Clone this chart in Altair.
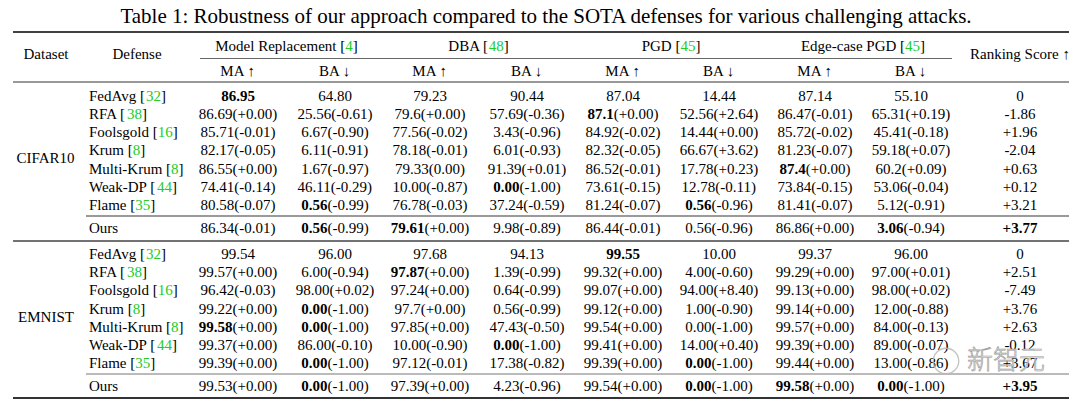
import altair as alt
import pandas as pd

# ---------------- data ----------------
title = "Table 1: Robustness of our approach compared to the SOTA defenses for various challenging attacks."
attacks = ["Model Replacement", "DBA", "PGD", "Edge-case PGD"]
attack_refs = ["4", "48", "45", "45"]
metrics = ["MA \u2191", "BA \u2193"]
datasets = ["CIFAR10", "EMNIST"]
defenses = ["FedAvg", "RFA", "Foolsgold", "Krum", "Multi-Krum", "Weak-DP", "Flame", "Ours"]
defense_refs = ["32", "38", "16", "8", "8", "44", "35", ""]
rank_header = "Ranking Score \u2191"

# '**' marks the bold part of a cell
cifar = [
    ["**86.95**", "64.80", "79.23", "90.44", "87.04", "14.44", "87.14", "55.10", "0"],
    ["86.69(+0.00)", "25.56(-0.61)", "79.6(+0.00)", "57.69(-0.36)", "**87.1**(+0.00)", "52.56(+2.64)", "86.47(-0.01)", "65.31(+0.19)", "-1.86"],
    ["85.71(-0.01)", "6.67(-0.90)", "77.56(-0.02)", "3.43(-0.96)", "84.92(-0.02)", "14.44(+0.00)", "85.72(-0.02)", "45.41(-0.18)", "+1.96"],
    ["82.17(-0.05)", "6.11(-0.91)", "78.18(-0.01)", "6.01(-0.93)", "82.32(-0.05)", "66.67(+3.62)", "81.23(-0.07)", "59.18(+0.07)", "-2.04"],
    ["86.55(+0.00)", "1.67(-0.97)", "79.33(0.00)", "91.39(+0.01)", "86.52(-0.01)", "17.78(+0.23)", "**87.4**(+0.00)", "60.2(+0.09)", "+0.63"],
    ["74.41(-0.14)", "46.11(-0.29)", "10.00(-0.87)", "**0.00**(-1.00)", "73.61(-0.15)", "12.78(-0.11)", "73.84(-0.15)", "53.06(-0.04)", "+0.12"],
    ["80.58(-0.07)", "**0.56**(-0.99)", "76.78(-0.03)", "37.24(-0.59)", "81.24(-0.07)", "**0.56**(-0.96)", "81.41(-0.07)", "5.12(-0.91)", "+3.21"],
    ["86.34(-0.01)", "**0.56**(-0.99)", "**79.61**(+0.00)", "9.98(-0.89)", "86.44(-0.01)", "0.56(-0.96)", "86.86(+0.00)", "**3.06**(-0.94)", "**+3.77**"],
]
emnist = [
    ["99.54", "96.00", "97.68", "94.13", "**99.55**", "10.00", "99.37", "96.00", "0"],
    ["99.57(+0.00)", "6.00(-0.94)", "**97.87**(+0.00)", "1.39(-0.99)", "99.32(+0.00)", "4.00(-0.60)", "99.29(+0.00)", "97.00(+0.01)", "+2.51"],
    ["96.42(-0.03)", "98.00(+0.02)", "97.24(+0.00)", "0.64(-0.99)", "99.07(+0.00)", "94.00(+8.40)", "99.13(+0.00)", "98.00(+0.02)", "-7.49"],
    ["99.22(+0.00)", "**0.00**(-1.00)", "97.7(+0.00)", "0.56(-0.99)", "99.12(+0.00)", "1.00(-0.90)", "99.14(+0.00)", "12.00(-0.88)", "+3.76"],
    ["**99.58**(+0.00)", "**0.00**(-1.00)", "97.85(+0.00)", "47.43(-0.50)", "99.54(+0.00)", "0.00(-1.00)", "99.57(+0.00)", "84.00(-0.13)", "+2.63"],
    ["99.37(+0.00)", "86.00(-0.10)", "10.00(-0.90)", "**0.00**(-1.00)", "99.41(+0.00)", "14.00(+0.40)", "99.39(+0.00)", "89.00(-0.07)", "-0.12"],
    ["99.39(+0.00)", "**0.00**(-1.00)", "97.12(-0.01)", "17.38(-0.82)", "99.39(+0.00)", "**0.00**(-1.00)", "99.44(+0.00)", "13.00(-0.86)", "+3.67"],
    ["99.53(+0.00)", "**0.00**(-1.00)", "97.39(+0.00)", "4.23(-0.96)", "99.54(+0.00)", "**0.00**(-1.00)", "**99.58**(+0.00)", "**0.00**(-1.00)", "**+3.95**"],
]
watermark = "新智元"

# ---------------- layout ----------------
FONT = "Liberation Serif"
FS = 15
TITLE_FS = 21
GREEN = "#22cc22"
col_x = [238, 335, 430, 527, 623, 719, 815, 911, 1020]
defense_x = 89
dataset_x = 46
defense_header_x = 137
title_x = 546
title_base_y = 22.5
head1_y = 46
head_mid_y = 54
head2_y = 71
rows_y = [[96, 114, 132, 150, 169, 187, 205, 228], [254, 272, 290, 309, 327, 345, 363, 386]]
dataset_y = [158, 317]

# Times-like character widths (per 1000 em)
REG = {" ": 250, "[": 333, "]": 333, "(": 333, ")": 333, "+": 564, "-": 333, ".": 250, ":": 278,
       "A": 722, "B": 667, "C": 667, "D": 722, "E": 611, "F": 556, "G": 722, "H": 722, "I": 333,
       "K": 722, "M": 889, "N": 722, "O": 722, "P": 556, "R": 667, "S": 556, "T": 611, "W": 944,
       "a": 444, "b": 500, "c": 444, "d": 500, "e": 444, "f": 333, "g": 500, "h": 500, "i": 278,
       "k": 500, "l": 278, "m": 778, "n": 500, "o": 500, "p": 500, "r": 333, "s": 389, "t": 278,
       "u": 500, "v": 500, "w": 722, "y": 500}
BOLD = dict(REG)
BOLD.update({"+": 570})


def tw(s, bold=False, size=FS):
    tab = BOLD if bold else REG
    return sum(tab.get(c, 500) for c in s) * size / 1000.0


def parse(cell):
    parts = cell.split("**")
    return [(p, i % 2 == 1, "black") for i, p in enumerate(parts) if p]


pieces = []


def place(segs, x, y, anchor="center", size=FS):
    total = sum(tw(t, b, size) for t, b, _ in segs)
    start = x - total / 2 if anchor == "center" else x
    for t, b, c in segs:
        pieces.append({"x": start, "y": y, "text": t, "bold": b, "color": c, "size": size})
        start += tw(t, b, size)


place([("Dataset", False, "black")], dataset_x, head_mid_y)
place([("Defense", False, "black")], defense_header_x, head_mid_y)
place([(rank_header, False, "black")], col_x[8], head_mid_y)
for g, (a, r) in enumerate(zip(attacks, attack_refs)):
    cx = (col_x[2 * g] + col_x[2 * g + 1]) / 2
    place([(a + " [", False, "black"), (r, False, GREEN), ("]", False, "black")], cx, head1_y)
    for k, m in enumerate(metrics):
        place([(m, False, "black")], col_x[2 * g + k], head2_y)

for d, (name, table) in enumerate(zip(datasets, [cifar, emnist])):
    place([(name, False, "black")], dataset_x, dataset_y[d])
    for i, row in enumerate(table):
        y = rows_y[d][i]
        if defense_refs[i]:
            segs = [(defenses[i] + " [", False, "black"), (defense_refs[i], False, GREEN), ("]", False, "black")]
        else:
            segs = [(defenses[i], False, "black")]
        place(segs, defense_x, y, anchor="left")
        for j, cell in enumerate(row):
            place(parse(cell), col_x[j], y)

df = pd.DataFrame(pieces)
df_reg = df[~df["bold"]]
df_bold = df[df["bold"]]
df_title = pd.DataFrame([{"x": title_x, "y": title_base_y, "text": title}])

rules = pd.DataFrame([
    {"x": 13, "x2": 1069, "y": 32, "color": "#000000", "w": 1.6},
    {"x": 200, "x2": 952, "y": 58.5, "color": "#555555", "w": 0.9},
    {"x": 13, "x2": 1069, "y": 82, "color": "#333333", "w": 1.1},
    {"x": 86, "x2": 1069, "y": 216, "color": "#9a9a9a", "w": 2.2},
    {"x": 13, "x2": 1069, "y": 241, "color": "#444444", "w": 1.3},
    {"x": 86, "x2": 1069, "y": 374, "color": "#777777", "w": 1.0},
    {"x": 13, "x2": 1069, "y": 398, "color": "#333333", "w": 1.8},
])

wm = pd.DataFrame([{"x": 1006, "y": 361, "text": watermark}])
wm_icon = pd.DataFrame([{"x": 946, "y": 361}])

X = alt.Scale(domain=[8, 1072], nice=False, zero=False)
Y = alt.Scale(domain=[8, 400], nice=False, zero=False, reverse=True)

rule_layer = alt.Chart(rules).mark_rule().encode(
    x=alt.X("x:Q", scale=X, axis=None),
    x2="x2:Q",
    y=alt.Y("y:Q", scale=Y, axis=None),
    color=alt.Color("color:N", scale=None),
    strokeWidth=alt.StrokeWidth("w:Q", scale=None),
)


def text_layer(data, weight):
    return alt.Chart(data).mark_text(
        align="left", baseline="middle", font=FONT, fontWeight=weight
    ).encode(
        x=alt.X("x:Q", scale=X, axis=None),
        y=alt.Y("y:Q", scale=Y, axis=None),
        text="text:N",
        color=alt.Color("color:N", scale=None),
        size=alt.Size("size:Q", scale=None),
    )


title_layer = alt.Chart(df_title).mark_text(
    align="center", baseline="alphabetic", font=FONT, fontSize=TITLE_FS, color="black"
).encode(x=alt.X("x:Q", scale=X, axis=None), y=alt.Y("y:Q", scale=Y, axis=None), text="text:N")

wm_text = alt.Chart(wm).mark_text(
    align="center", baseline="middle", font="Noto Sans CJK SC", fontSize=26, fontWeight=300,
    fill="#e6e6e6", fillOpacity=0.85, stroke="#9a9a9a", strokeWidth=0.6
).encode(x=alt.X("x:Q", scale=X, axis=None), y=alt.Y("y:Q", scale=Y, axis=None), text="text:N")

wm_circle = alt.Chart(wm_icon).mark_point(
    shape="circle", size=650, filled=False, color="#b8b8b8", strokeWidth=1.3, opacity=0.85
).encode(x=alt.X("x:Q", scale=X, axis=None), y=alt.Y("y:Q", scale=Y, axis=None))

chart = alt.layer(
    rule_layer, title_layer, text_layer(df_reg, "normal"), text_layer(df_bold, "bold"), wm_circle, wm_text
).properties(
    width=1064, height=392, padding=0, autosize=alt.AutoSizeParams(type="none"), background="white"
).configure_view(stroke=None)

chart.save("out.html", embed_options={"renderer": "svg", "actions": False})
